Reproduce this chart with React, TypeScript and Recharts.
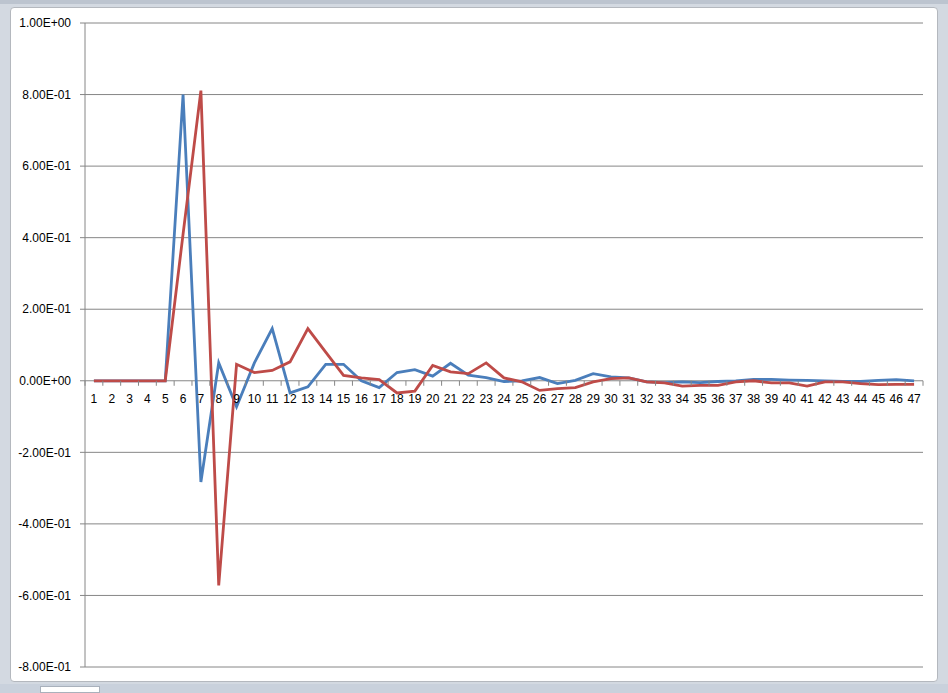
import { LineChart, Line, XAxis, YAxis, CartesianGrid } from "recharts";

const categories = [
  1, 2, 3, 4, 5, 6, 7, 8, 9, 10, 11, 12, 13, 14, 15, 16, 17, 18, 19, 20, 21, 22, 23, 24,
  25, 26, 27, 28, 29, 30, 31, 32, 33, 34, 35, 36, 37, 38, 39, 40, 41, 42, 43, 44, 45, 46, 47,
];

const series1 = [
  0, 0, 0, 0, 0, 0.8, -0.283, 0.05, -0.073, 0.05, 0.146, -0.034, -0.017, 0.046, 0.046, 0,
  -0.019, 0.023, 0.031, 0.013, 0.049, 0.016, 0.009, -0.002, 0, 0.009, -0.008, 0.001, 0.02,
  0.011, 0.008, -0.003, -0.005, -0.003, -0.005, -0.002, 0, 0.004, 0.004, 0.002, 0.001, 0,
  -0.002, -0.002, 0.001, 0.003, 0,
];

const series2 = [
  0, 0, 0, 0, 0, 0.41, 0.811, -0.572, 0.046, 0.023, 0.029, 0.053, 0.146, 0.08, 0.015, 0.008,
  0.003, -0.034, -0.029, 0.043, 0.025, 0.02, 0.05, 0.008, -0.003, -0.027, -0.022, -0.019,
  -0.003, 0.006, 0.008, -0.003, -0.006, -0.015, -0.013, -0.013, -0.003, 0, -0.006, -0.006,
  -0.015, -0.003, -0.003, -0.008, -0.011, -0.01, -0.01,
];

const yTicks = [-0.8, -0.6, -0.4, -0.2, 0, 0.2, 0.4, 0.6, 0.8, 1.0];

const data = categories.map((c, i) => ({ x: c, s1: series1[i], s2: series2[i] }));

// chart geometry
const W = 948;
const H = 693;
const TOP = 23;
const BOTTOM = 16;
const XH = 10;
const RIGHT = 25;
const YW = 85;
const Y_MIN = -0.8;
const Y_MAX = 1.0;
const PLOT_H = H - TOP - BOTTOM - XH;
const PLOT_W = W - YW - RIGHT;
const BAND = PLOT_W / categories.length;
const ZERO_Y = TOP + (PLOT_H * (Y_MAX - 0)) / (Y_MAX - Y_MIN);
const GRID = "#868686";
const FONT = "'Liberation Sans', Arial, sans-serif";

function sci(v: number) {
  const [m, e] = v.toExponential(2).split("e");
  const n = parseInt(e, 10);
  const sign = n < 0 ? "-" : "+";
  return `${m}E${sign}${String(Math.abs(n)).padStart(2, "0")}`;
}

function renderCategoryTick(props: any) {
  const { x, index, payload } = props;
  const last = index === categories.length - 1;
  return (
    <g key={`ct-${index}`}>
      <line x1={x - BAND / 2} x2={x - BAND / 2} y1={ZERO_Y} y2={ZERO_Y + 5} stroke={GRID} />
      {last && <line x1={x + BAND / 2} x2={x + BAND / 2} y1={ZERO_Y} y2={ZERO_Y + 5} stroke={GRID} />}
      <text x={x} y={ZERO_Y + 22} textAnchor="middle" fontSize={12} fill="#000" fontFamily={FONT}>
        {payload.value}
      </text>
    </g>
  );
}

export default function App() {
  return (
    <div style={{ position: "fixed", left: 0, top: 0, width: W, height: H, background: "#d3d9e1", overflow: "hidden" }}>
      <div style={{ position: "absolute", left: 0, top: 0, width: W, height: 4, background: "#bcc4cf" }} />
      <div
        style={{
          position: "absolute",
          left: 10,
          top: 7,
          width: 928,
          height: 675,
          background: "#fff",
          border: "1px solid #b4b8be",
          borderRadius: 4,
          boxSizing: "border-box",
        }}
      />
      <div style={{ position: "absolute", left: 0, top: 684, width: W, height: 9, background: "#c9d1dc" }} />
      <div style={{ position: "absolute", left: 40, top: 686, width: 60, height: 7, background: "#fff", border: "1px solid #a9b1bc", boxSizing: "border-box" }} />
      <div style={{ position: "absolute", left: 0, top: 0 }}>
        <LineChart width={W} height={H} data={data} margin={{ top: TOP, right: RIGHT, bottom: BOTTOM, left: 0 }}>
          <CartesianGrid horizontal vertical={false} stroke={GRID} strokeWidth={1} />
          <XAxis
            dataKey="x"
            type="category"
            interval={0}
            height={XH}
            axisLine={false}
            tickLine={false}
            padding={{ left: BAND / 2, right: BAND / 2 }}
            tick={renderCategoryTick}
          />
          <YAxis
            width={YW}
            domain={[Y_MIN, Y_MAX]}
            ticks={yTicks}
            interval={0}
            tickFormatter={sci}
            axisLine={{ stroke: GRID }}
            tickLine={{ stroke: GRID }}
            tickSize={5}
            tickMargin={9}
            tick={{ fontSize: 12, fill: "#000", fontFamily: FONT }}
          />
          <Line type="linear" dataKey="s1" stroke="#4a7ebb" strokeWidth={2.8} dot={false} isAnimationActive={false} />
          <Line type="linear" dataKey="s2" stroke="#be4b48" strokeWidth={2.8} dot={false} isAnimationActive={false} />
        </LineChart>
      </div>
    </div>
  );
}
